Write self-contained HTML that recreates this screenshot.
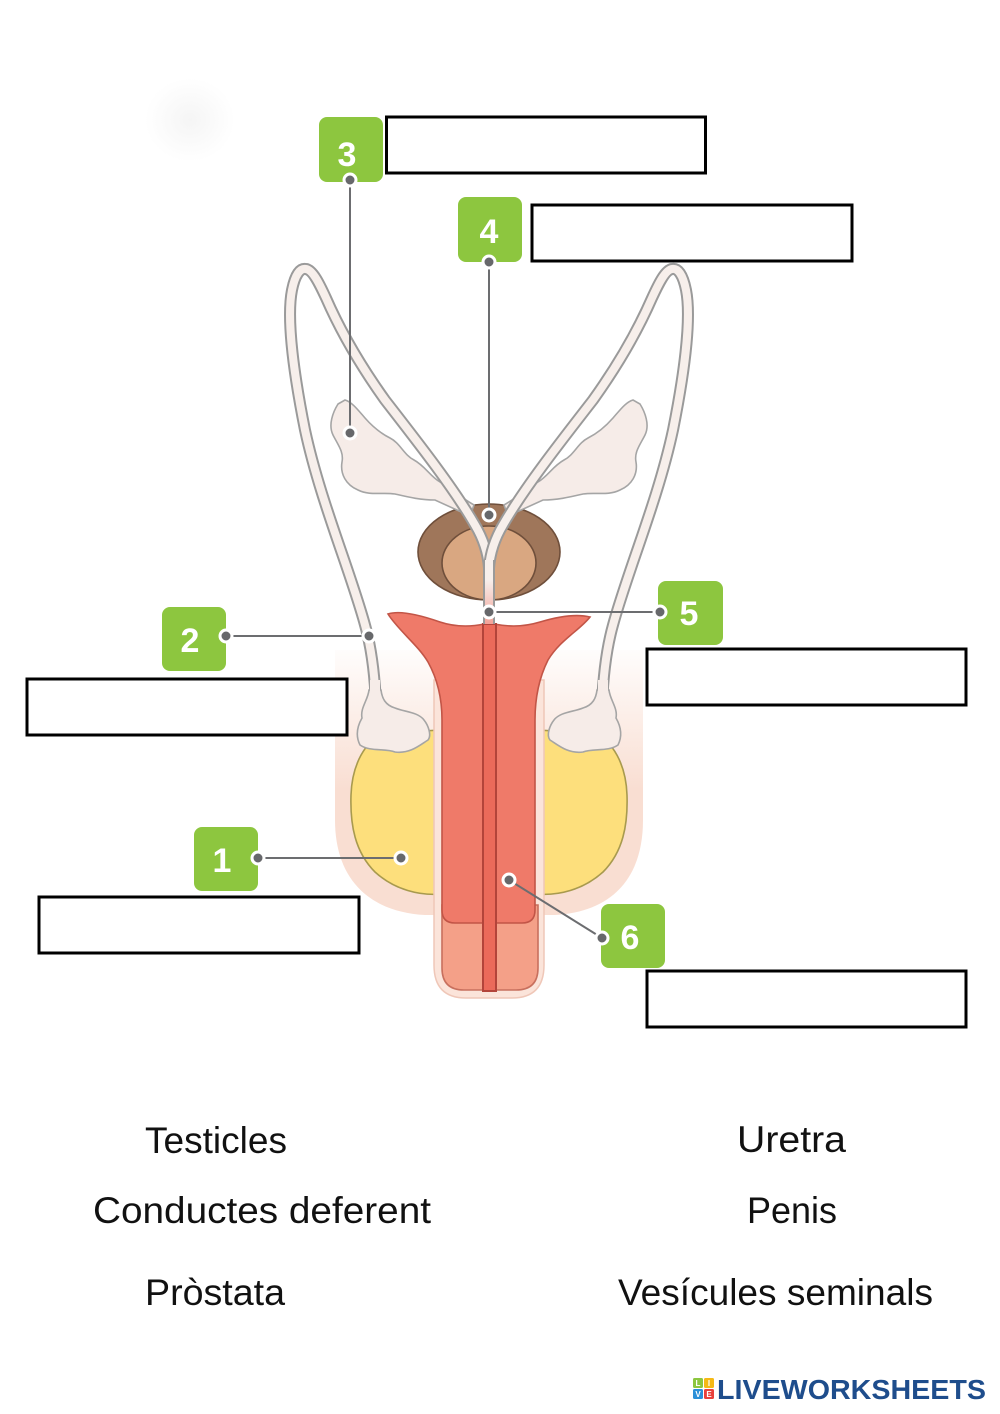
<!DOCTYPE html>
<html><head><meta charset="utf-8"><style>
html,body{margin:0;padding:0;background:#fff;width:1000px;height:1414px;overflow:hidden}
svg{display:block}
</style></head><body>
<svg width="1000" height="1414" viewBox="0 0 1000 1414" xmlns="http://www.w3.org/2000/svg">
<defs>
<linearGradient id="scr" x1="0" y1="640" x2="0" y2="790" gradientUnits="userSpaceOnUse">
<stop offset="0" stop-color="#ffffff"/><stop offset="1" stop-color="#f9ded2"/>
</linearGradient>
<linearGradient id="ure" x1="0" y1="580" x2="0" y2="625" gradientUnits="userSpaceOnUse">
<stop offset="0" stop-color="#f7efeb"/><stop offset="1" stop-color="#f3a096"/>
</linearGradient>
<radialGradient id="ghost" cx="0.5" cy="0.5" r="0.5">
<stop offset="0" stop-color="#f5f5f5"/><stop offset="1" stop-color="#ffffff"/>
</radialGradient>
<g id="half">
  <path d="M338 404 C333 412,328 425,333 435 C338 445,344 452,342 462 C340 474,346 485,358 490 C370 496,382 492,395 494 C408 497,420 500,435 500 L470 516 L474 505 C460 497,450 488,440 482 C430 476,425 466,414 460 C404 455,400 443,390 438 C380 433,372 426,365 418 C358 410,352 402,345 400 Z" fill="#f6ece8" stroke="#a5a5a5" stroke-width="1.6"/>
  <path d="M376 705 C375 680,372 650,365 625 C350 570,320 500,305 430 C295 380,286 320,292 290 C295 275,300 268,306 269 C313 270,320 285,326 298 C340 330,360 365,385 400 C420 445,455 490,475 525 C484 540,488 555,489 568" fill="none" stroke="#9a9a9a" stroke-width="12" stroke-linecap="round"/>
  <path d="M376 705 C375 680,372 650,365 625 C350 570,320 500,305 430 C295 380,286 320,292 290 C295 275,300 268,306 269 C313 270,320 285,326 298 C340 330,360 365,385 400 C420 445,455 490,475 525 C484 540,488 555,489 568" fill="none" stroke="#f7efeb" stroke-width="8" stroke-linecap="round"/>
  <path d="M369 690 C368 700,360 708,362 718 C358 725,355 735,360 745 C370 752,385 748,395 752 C410 754,420 745,428 740 C432 735,428 725,424 720 C418 712,405 712,395 708 C385 705,382 698,381 690 Z" fill="#f6ece8" stroke="#a5a5a5" stroke-width="1.6"/>
  <path d="M370 680 L370 700 L380 700 L380 680 Z" fill="#f6ece8"/>
</g>
</defs>

<ellipse cx="190" cy="120" rx="45" ry="42" fill="url(#ghost)"/>

<path d="M335 650 L335 820 C335 880,370 912,425 915 L555 915 C610 912,643 880,643 820 L643 650 Z" fill="url(#scr)"/>

<path d="M442 730 L442 894 C420 896,395 890,375 872 C355 852,350 825,351 795 C352 765,365 740,385 733 Z" fill="#fddf7c" stroke="#a89a4e" stroke-width="1.6"/>
<path d="M536 730 L536 894 C558 896,583 890,603 872 C623 852,628 825,627 795 C626 765,613 740,593 733 Z" fill="#fddf7c" stroke="#a89a4e" stroke-width="1.6"/>

<path d="M434 680 L434 965 Q434 998,466 998 L512 998 Q544 998,544 965 L544 680 Z" fill="#fbe4da" stroke="#efc7b8" stroke-width="1.5"/>
<path d="M442 905 L442 968 Q442 990,464 990 L516 990 Q538 990,538 968 L538 905 Z" fill="#f4a088" stroke="#c8705e" stroke-width="1.6"/>
<path d="M388 614 C400 610,420 615,440 622 C458 628,475 626,484 624 L494 624 C505 626,520 628,540 622 C560 616,578 614,590 617 C580 630,560 640,548 660 C538 680,535 700,535 720 L535 910 Q535 923,522 923 L455 923 Q442 923,442 910 L442 720 C442 700,438 680,428 662 C418 645,398 630,388 614 Z" fill="#ef7a69" stroke="#c25547" stroke-width="1.6"/>
<rect x="483" y="624" width="13" height="367" fill="#eb6a5a" stroke="#b3443a" stroke-width="2"/>

<ellipse cx="489" cy="552" rx="71" ry="48" fill="#9f765a" stroke="#6f4f3b" stroke-width="1.6"/>
<ellipse cx="489" cy="563" rx="47" ry="37" fill="#d9a781" stroke="#6f4f3b" stroke-width="1.6"/>

<use href="#half"/>
<use href="#half" transform="translate(978,0) scale(-1,1)"/>

<rect x="483" y="560" width="12" height="64" fill="#9a9a9a"/>
<rect x="485" y="560" width="8" height="64" fill="url(#ure)"/>

<g stroke="#6c6d70" stroke-width="2" fill="none">
<line x1="350" y1="180" x2="350" y2="433"/>
<line x1="489" y1="262" x2="489" y2="515"/>
<line x1="660" y1="612" x2="489" y2="612"/>
<line x1="226" y1="636" x2="369" y2="636"/>
<line x1="258" y1="858" x2="401" y2="858"/>
<line x1="602" y1="938" x2="509" y2="880"/>
</g>

<g fill="#8dc63f">
<rect x="319" y="117" width="64" height="65" rx="8"/>
<rect x="458" y="197" width="64" height="65" rx="8"/>
<rect x="658" y="581" width="65" height="64" rx="8"/>
<rect x="162" y="607" width="64" height="64" rx="8"/>
<rect x="194" y="827" width="64" height="64" rx="8"/>
<rect x="601" y="904" width="64" height="64" rx="8"/>
</g>
<g font-family="Liberation Sans, sans-serif" font-weight="bold" font-size="34" fill="#ffffff" text-anchor="middle">
<text x="347" y="166">3</text>
<text x="489" y="243">4</text>
<text x="689" y="625">5</text>
<text x="190" y="652">2</text>
<text x="222" y="872">1</text>
<text x="630" y="949">6</text>
</g>

<g fill="#67686b" stroke="#ffffff" stroke-width="3">
<circle cx="350" cy="180" r="6"/><circle cx="350" cy="433" r="6"/>
<circle cx="489" cy="262" r="6"/><circle cx="489" cy="515" r="6"/>
<circle cx="660" cy="612" r="6"/><circle cx="489" cy="612" r="6"/>
<circle cx="226" cy="636" r="6"/><circle cx="369" cy="636" r="6"/>
<circle cx="258" cy="858" r="6"/><circle cx="401" cy="858" r="6"/>
<circle cx="602" cy="938" r="6"/><circle cx="509" cy="880" r="6"/>
</g>

<g fill="#ffffff" stroke="#000000" stroke-width="3">
<rect x="386.5" y="117" width="319" height="56"/>
<rect x="532" y="205" width="320" height="56"/>
<rect x="647" y="649" width="319" height="56"/>
<rect x="27" y="679" width="320" height="56"/>
<rect x="39" y="897" width="320" height="56"/>
<rect x="647" y="971" width="319" height="56"/>
</g>

<g font-family="Liberation Sans, sans-serif" font-size="37" fill="#111111">
<text x="145" y="1153" textLength="142" lengthAdjust="spacingAndGlyphs">Testicles</text>
<text x="93" y="1223" textLength="338" lengthAdjust="spacingAndGlyphs">Conductes deferent</text>
<text x="145" y="1305" textLength="140" lengthAdjust="spacingAndGlyphs">Pròstata</text>
<text x="737" y="1152" textLength="109" lengthAdjust="spacingAndGlyphs">Uretra</text>
<text x="747" y="1223" textLength="90" lengthAdjust="spacingAndGlyphs">Penis</text>
<text x="618" y="1305" textLength="315" lengthAdjust="spacingAndGlyphs">Vesícules seminals</text>
</g>

<rect x="693" y="1378" width="10" height="10" rx="1.5" fill="#8cc63f"/>
<rect x="704" y="1378" width="10" height="10" rx="1.5" fill="#f5b915"/>
<rect x="693" y="1389" width="10" height="10" rx="1.5" fill="#2a8fd8"/>
<rect x="704" y="1389" width="10" height="10" rx="1.5" fill="#e8413c"/>
<g font-family="Liberation Sans, sans-serif" font-weight="bold" font-size="8" fill="#ffffff" text-anchor="middle">
<text x="698" y="1386">L</text><text x="709" y="1386">I</text>
<text x="698" y="1397">V</text><text x="709" y="1397">E</text>
</g>
<text x="717" y="1399" font-family="Liberation Sans, sans-serif" font-weight="bold" font-size="28" fill="#1e4d8c" textLength="269" lengthAdjust="spacingAndGlyphs">LIVEWORKSHEETS</text>
</svg>
</body></html>
